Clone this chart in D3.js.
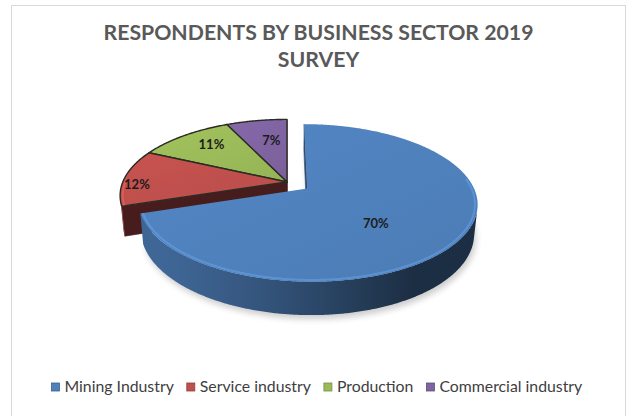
<!DOCTYPE html>
<html>
<head>
<meta charset="utf-8">
<script src="https://cdn.jsdelivr.net/npm/d3@7"></script>
<style>
  html, body { margin: 0; padding: 0; background: #ffffff; }
  svg { display: block; }
</style>
</head>
<body>
<svg id="chart" width="627" height="416"></svg>
<script>
// ---- data ----
const titleLines = ["RESPONDENTS BY BUSINESS SECTOR 2019", "SURVEY"];
const sectors = ["Mining Industry", "Service industry", "Production", "Commercial industry"];
const shares = [70, 12, 11, 7];
const shareLabels = ["70%", "12%", "11%", "7%"];

// ---- style ----
const palette = ["#4f81bd", "#c0504d", "#9bbb59", "#8064a2"];
const fontFamily = "Lato, 'Open Sans', 'Liberation Sans', sans-serif";

const svg = d3.select("#chart");

// outer chart frame
svg.append("rect")
  .attr("x", 11.5).attr("y", 5.5)
  .attr("width", 614).attr("height", 430)
  .attr("fill", "#ffffff").attr("stroke", "#d9d9d9").attr("stroke-width", 1);

// ---- 3D projection of a flat disc (radius 1) tilted toward the viewer ----
const cam = { cx: 287, cy: 182, F: 821, tilt: 26.7 * Math.PI / 180, D: 5, h: 0.2 };
const sT = Math.sin(cam.tilt), cT = Math.cos(cam.tilt);
const camPos = [0, cam.D * cT, cam.D * sT];
function proj(X, Y, Z) {
  const depth = cam.D - Y * cT - Z * sT;
  return [cam.cx + cam.F * X / depth, cam.cy + cam.F * (Y * sT - Z * cT) / depth];
}
const L = (() => { const v = [-0.8, 0.5, 0.3]; const n = Math.hypot(...v); return v.map(d => d / n); })();
function facing(n, p) {
  return n[0] * (camPos[0] - p[0]) + n[1] * (camPos[1] - p[1]) + n[2] * (camPos[2] - p[2]) > 0;
}
function shade(base, n) {
  const k = Math.pow(Math.max(0, n[0] * L[0] + n[1] * L[1] + n[2] * L[2]), 1.2);
  const dark = d3.color(base).darker(2.9), light = d3.color(base).darker(0.55);
  return d3.interpolateRgb(dark, light)(k);
}
const explode = [0.15, 0, 0, 0];

const pie = d3.pie().sort(null).value(d => d);
const arcs = pie(shares).map((a, i) => {
  const mid = (a.startAngle + a.endAngle) / 2;
  return { ...a, i, mid, ox: explode[i] * Math.sin(mid), oy: -explode[i] * Math.cos(mid) };
});

const defs = svg.append("defs");
defs.append("filter").attr("id", "soft").attr("x", "-20%").attr("y", "-20%").attr("width", "140%").attr("height", "140%")
  .append("feGaussianBlur").attr("stdDeviation", 3);

palette.forEach((c, i) => {
  const g = defs.append("linearGradient").attr("id", "top" + i)
    .attr("x1", "0%").attr("y1", "0%").attr("x2", "100%").attr("y2", "100%");
  g.append("stop").attr("offset", "0%").attr("stop-color", d3.color(c).brighter(0.12));
  g.append("stop").attr("offset", "100%").attr("stop-color", d3.color(c).darker(0.12));
});

const line = d3.line();
const rim = (a, ang, Z, r = 1) => proj(a.ox + r * Math.sin(ang), a.oy - r * Math.cos(ang), Z);
const apex = (a, Z) => proj(a.ox, a.oy, Z);
const STEP = Math.PI / 360;
function angles(a0, a1) {
  const n = Math.max(2, Math.ceil((a1 - a0) / STEP));
  return d3.range(n + 1).map(k => a0 + (a1 - a0) * k / n);
}
const wallNormal = t => [Math.sin(t), -Math.cos(t), 0];

const pieLayer = svg.append("g");

// soft shadow under the large exploded slice
arcs.filter(a => explode[a.i] > 0).forEach(a => {
  const pts = [apex(a, -cam.h), ...angles(a.startAngle, a.endAngle).map(t => rim(a, t, -cam.h))];
  pieLayer.append("path")
    .attr("d", line(pts) + "Z")
    .attr("transform", "translate(2,4)")
    .attr("fill", "#000").attr("opacity", 0.2)
    .attr("filter", "url(#soft)");
});

// draw back slices first
const order = arcs.slice().sort((p, q) => (p.oy - Math.cos(p.mid)) - (q.oy - Math.cos(q.mid)));
order.forEach(a => {
  const g = pieLayer.append("g");
  const base = palette[a.i];
  const h = cam.h;

  // radial cut faces
  [[a.startAngle, -1], [a.endAngle, 1]].forEach(([ang, sgn]) => {
    const n = [sgn * Math.cos(ang), sgn * Math.sin(ang), 0];
    const p = [a.ox + 0.5 * Math.sin(ang), a.oy - 0.5 * Math.cos(ang), -h / 2];
    if (!facing(n, p)) return;
    const pts = [apex(a, 0), rim(a, ang, 0), rim(a, ang, -h), apex(a, -h)];
    const col = d3.color(shade(base, n)).darker(0.5);
    g.append("path").attr("d", line(pts) + "Z")
      .attr("fill", col).attr("stroke", col).attr("stroke-width", 0.6);
  });

  // curved outer wall: visible arc only, shaded with a horizontal gradient
  const ts = angles(a.startAngle, a.endAngle);
  const vis = ts.filter(t => {
    const n = wallNormal(t);
    return facing(n, [a.ox + n[0], a.oy + n[1], -h / 2]);
  });
  if (vis.length > 1) {
    const topEdge = vis.map(t => rim(a, t, 0));
    const botEdge = vis.map(t => rim(a, t, -h)).reverse();
    const xs = topEdge.map(p => p[0]);
    const x0 = d3.min(xs), x1 = d3.max(xs);
    const gid = "wall" + a.i;
    const grad = defs.append("linearGradient").attr("id", gid)
      .attr("gradientUnits", "userSpaceOnUse")
      .attr("x1", x0).attr("x2", x1).attr("y1", 0).attr("y2", 0);
    const stops = vis.filter((t, k) => k % 6 === 0 || k === vis.length - 1)
      .map(t => ({ off: (rim(a, t, 0)[0] - x0) / Math.max(1, x1 - x0), col: shade(base, wallNormal(t)) }))
      .sort((p, q) => p.off - q.off);
    stops.forEach(s => grad.append("stop").attr("offset", s.off).attr("stop-color", s.col));
    g.append("path").attr("d", line([...topEdge, ...botEdge]) + "Z")
      .attr("fill", `url(#${gid})`);
  }

  // top face
  const topPts = [apex(a, 0), ...ts.map(t => rim(a, t, 0))];
  g.append("path").attr("d", line(topPts) + "Z")
    .attr("fill", `url(#top${a.i})`)
    .attr("stroke", explode[a.i] > 0 ? "none" : "#2b2b24")
    .attr("stroke-width", 1.4).attr("stroke-linejoin", "round");

  // bevel highlight along the near rim
  const front = ts.filter(t => -Math.cos(t) + a.oy > -0.05);
  if (front.length > 1) {
    g.append("path").attr("d", line(front.map(t => rim(a, t, 0, 0.985))))
      .attr("fill", "none").attr("stroke", d3.color(base).brighter(0.9))
      .attr("stroke-width", 2).attr("opacity", 0.4);
  }
});

// percentage labels: [fraction along slice, radius]
const labelSpot = [[0.55, 0.56], [0.38, 0.91], [0.58, 0.76], [0.62, 0.64]];
arcs.forEach(a => {
  const [f, r] = labelSpot[a.i];
  const ang = a.startAngle + f * (a.endAngle - a.startAngle);
  const [x, y] = rim(a, ang, 0, r);
  svg.append("text")
    .attr("x", x).attr("y", y).attr("dy", "0.36em")
    .attr("text-anchor", "middle")
    .attr("font-family", fontFamily).attr("font-weight", 700).attr("font-size", 13)
    .attr("fill", "#1c1c1c")
    .text(shareLabels[a.i]);
});

// ---- title ----
const titleG = svg.append("g")
  .attr("font-family", fontFamily).attr("font-weight", 700).attr("fill", "#595959");
const t1 = titleG.append("text").attr("text-anchor", "middle").attr("x", 318.5).attr("y", 40)
  .attr("font-size", 20).text(titleLines[0]);
const titleSize = 20 * 430 / t1.node().getComputedTextLength();
t1.attr("font-size", titleSize);
titleG.append("text").attr("text-anchor", "middle").attr("x", 318.5).attr("y", 67)
  .attr("font-size", titleSize).text(titleLines[1]);

// ---- legend ----
const legend = svg.append("g").attr("font-family", fontFamily).attr("fill", "#404040");
const probe = legend.append("g").attr("font-size", 14);
const widths = sectors.map(s => { const t = probe.append("text").text(s); const w = t.node().getComputedTextLength(); t.remove(); return w; });
probe.remove();
const legendSize = 14 * 440 / d3.sum(widths);
const sw = 8, gapIn = 5, gapOut = 13;
const totalW = d3.sum(widths.map(w => w * legendSize / 14)) + sectors.length * (sw + gapIn) + (sectors.length - 1) * gapOut;
let lx = 317 - totalW / 2;
sectors.forEach((s, i) => {
  const c = palette[i];
  legend.append("rect").attr("x", lx).attr("y", 383).attr("width", sw).attr("height", sw)
    .attr("fill", c).attr("stroke", d3.color(c).darker(0.8)).attr("stroke-width", 0.8);
  const tx = legend.append("text").attr("x", lx + sw + gapIn).attr("y", 392)
    .attr("font-size", legendSize).text(s);
  lx += sw + gapIn + tx.node().getComputedTextLength() + gapOut;
});
</script>
</body>
</html>
